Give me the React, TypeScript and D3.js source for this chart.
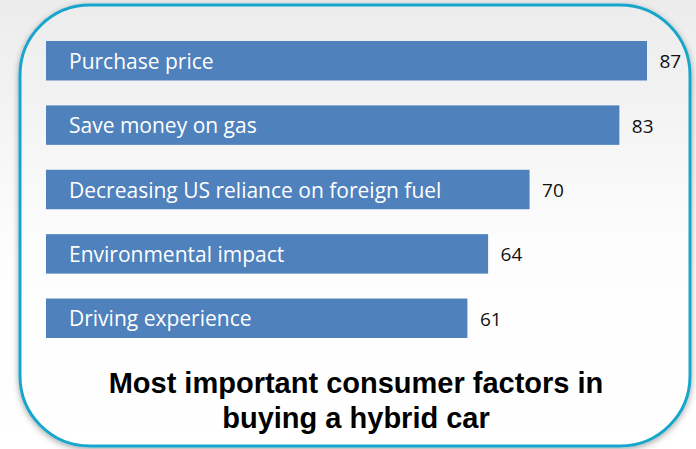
import React from "react";
import * as d3 from "d3";

const categories = [
  "Purchase price",
  "Save money on gas",
  "Decreasing US reliance on foreign fuel",
  "Environmental impact",
  "Driving experience",
];
const values = [87, 83, 70, 64, 61];
const titleLines = ["Most important consumer factors in", "buying a hybrid car"];

const W = 696;
const H = 449;

export default function App() {
  const x = d3.scaleLinear().domain([0, d3.max(values) as number]).range([46, 647]);
  const y = d3.scaleBand<string>().domain(categories).range([41, 338]).paddingInner(0.387).paddingOuter(0);
  const bw = y.bandwidth();

  return (
    <svg width={W} height={H} style={{ position: "absolute", left: 0, top: 0 }}>
      <defs>
        <linearGradient id="bg" x1="0" y1="0" x2="0" y2="1">
          <stop offset="0" stopColor="#ececec" />
          <stop offset="0.55" stopColor="#fdfdfd" />
          <stop offset="1" stopColor="#ffffff" />
        </linearGradient>
        <filter id="sh" x="-10%" y="-10%" width="120%" height="120%">
          <feDropShadow dx="0" dy="2" stdDeviation="3" floodColor="#000" floodOpacity="0.35" />
        </filter>
      </defs>
      <rect x={0} y={0} width={W} height={H} fill="url(#bg)" />
      <rect
        x={20}
        y={5}
        width={670}
        height={441}
        rx={70}
        ry={70}
        fill="url(#bg)"
        stroke="#17a5cb"
        strokeWidth={3}
        filter="url(#sh)"
      />
      {categories.map((c, i) => {
        const y0 = y(c) as number;
        return (
          <g key={c}>
            <rect x={x(0)} y={y0} width={x(values[i]) - x(0)} height={bw} fill="#4f81bd" />
            <text
              x={x(0) + 23}
              y={y0 + bw / 2 + 8}
              fill="#ffffff"
              fontFamily="'Open Sans', sans-serif"
              fontSize={21}
            >
              {c}
            </text>
            <text
              x={x(values[i]) + 12.5}
              y={y0 + bw / 2 + 7.5}
              fill="#111"
              fontFamily="'Open Sans', sans-serif"
              fontSize={19}
            >
              {values[i]}
            </text>
          </g>
        );
      })}
      {titleLines.map((t, i) => (
        <text
          key={t}
          x={356}
          y={393 + i * 35}
          textAnchor="middle"
          fontFamily="'Liberation Sans', Arial, sans-serif"
          fontWeight="bold"
          fontSize={29}
          fill="#000"
        >
          {t}
        </text>
      ))}
    </svg>
  );
}
